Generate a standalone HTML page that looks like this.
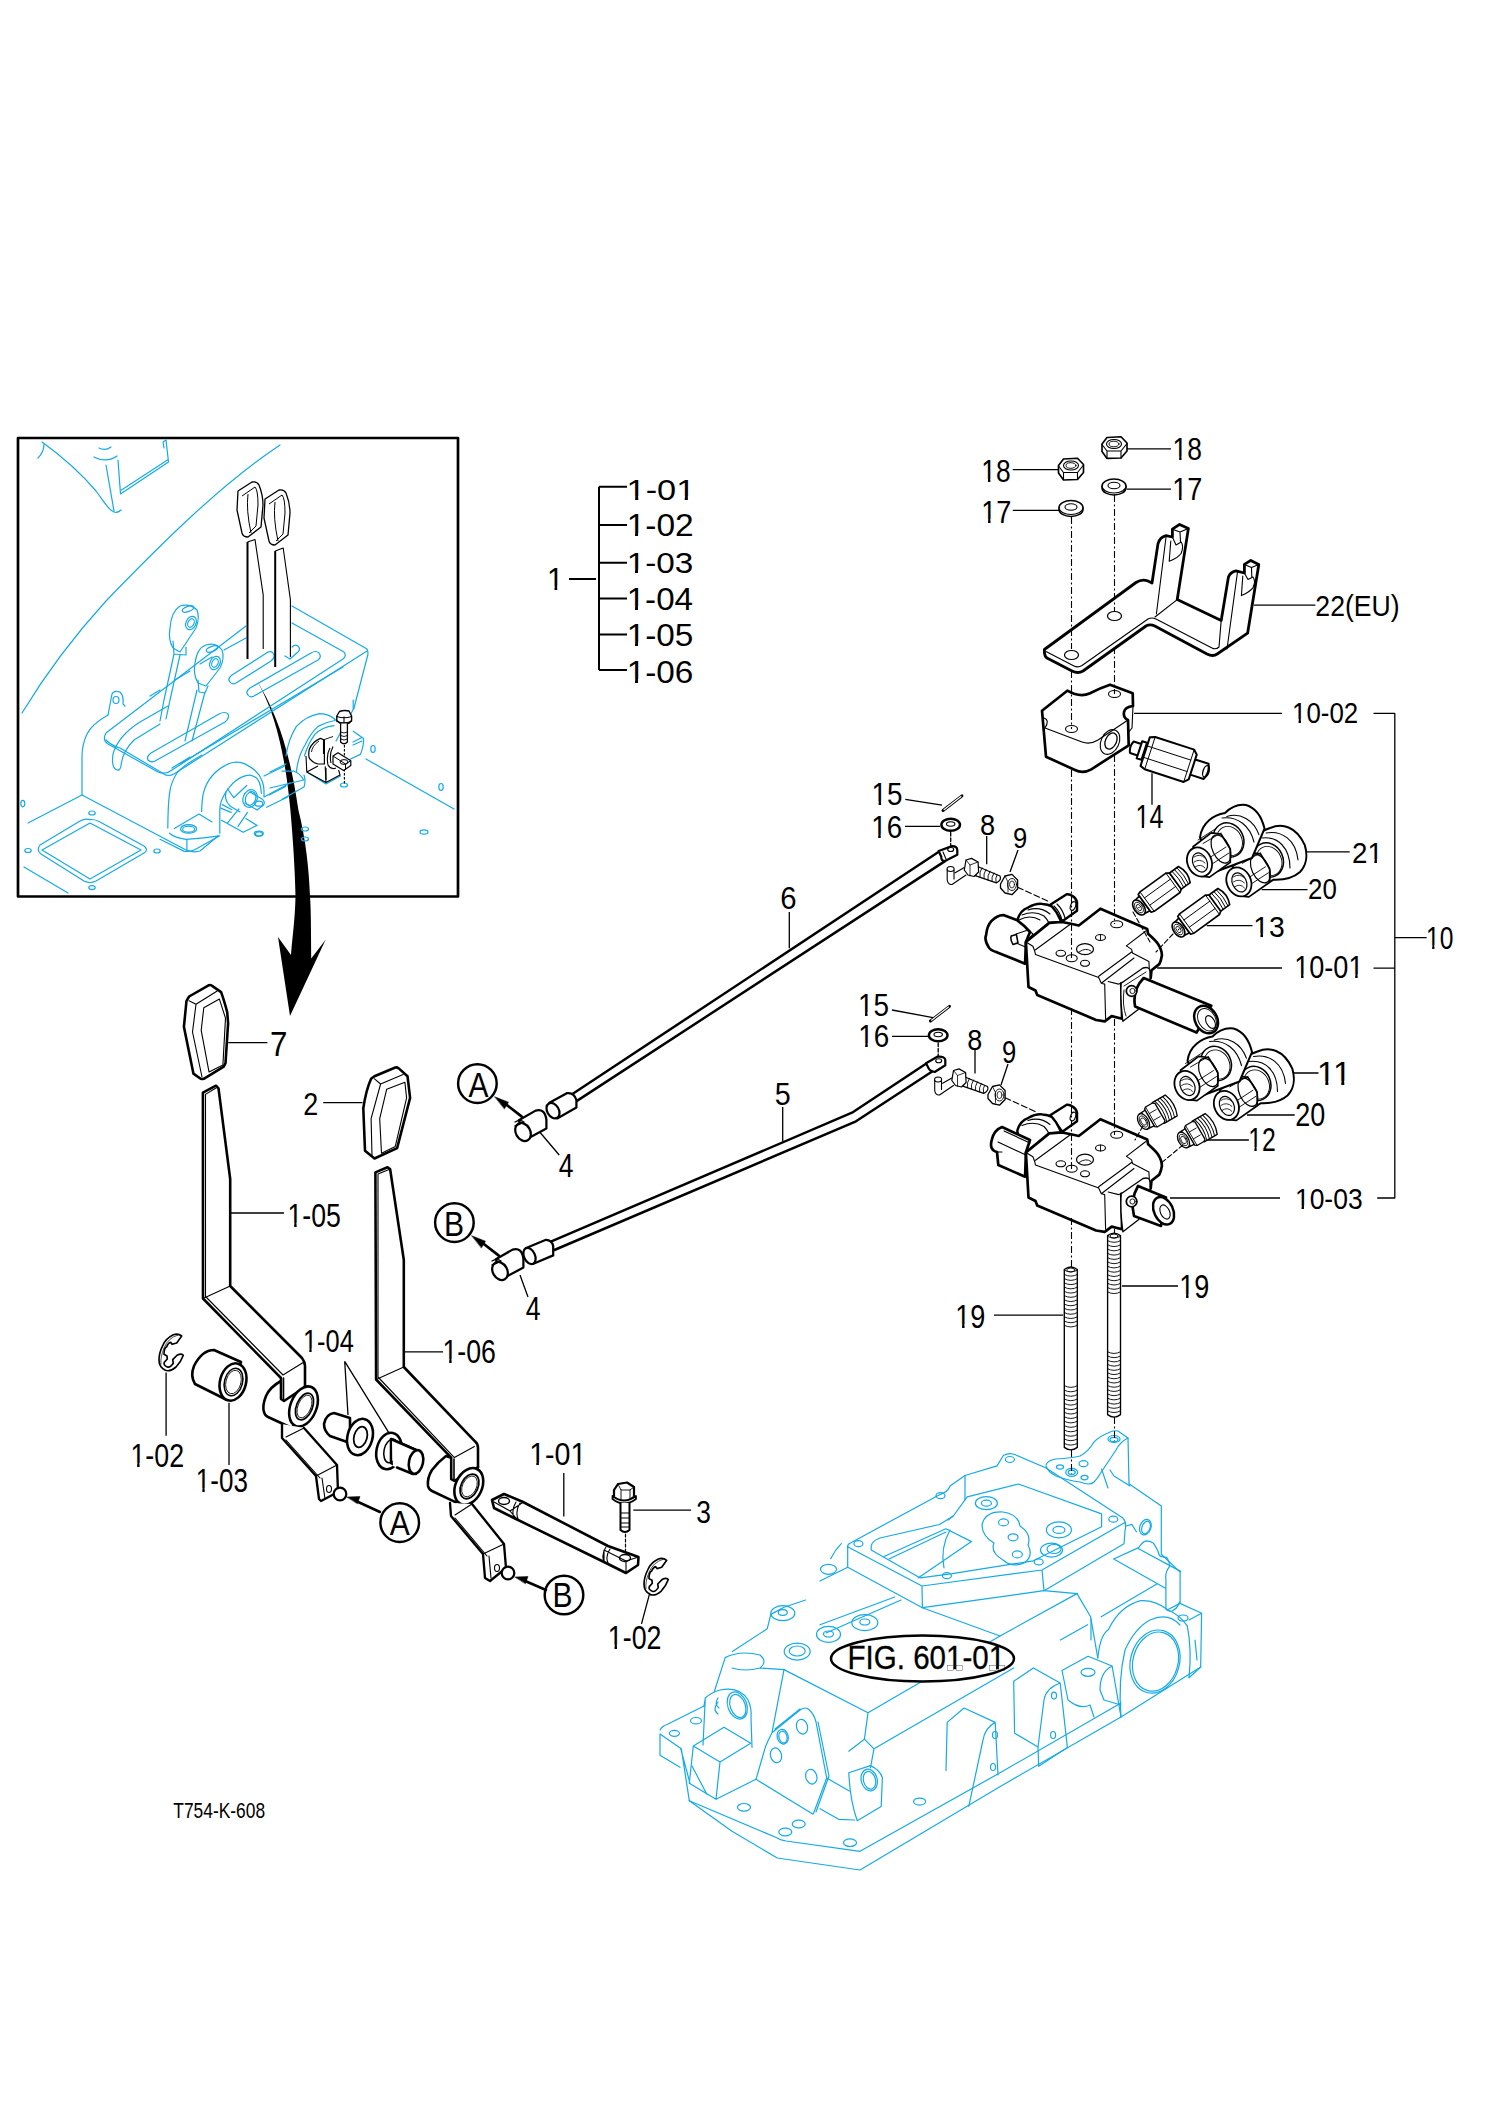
<!DOCTYPE html>
<html><head><meta charset="utf-8"><style>
html,body{margin:0;padding:0;background:#fff;}
svg{display:block;}
text{font-family:"Liberation Sans",sans-serif;}
</style></head><body>
<svg width="1500" height="2123" viewBox="0 0 1500 2123">
<rect width="1500" height="2123" fill="#fff"/>
<g fill="none" stroke="#000" stroke-linecap="butt" stroke-linejoin="round">
<rect x="18" y="438" width="440" height="458.5" stroke-width="2.7"/>
<!-- tree -->
<g stroke-width="2">
<path d="M599,486.7 V670 M599,486.7 H627 M599,525 H627 M599,562.8 H627 M599,598.5 H627 M599,634.5 H627 M599,670 H627 M569,579 H596"/>
</g>
<!-- leaders -->
<g stroke-width="1.3">
<path d="M1127,448.8 H1171 M1012.8,469.6 H1058.4 M1126.9,489.1 H1171 M1012.8,510.4 H1059"/>
<path d="M1134,713.3 H1282 M1373.5,713.4 H1394.8 V1198 H1377.2 M1373.5,968.1 H1394.8 M1394.8,937.7 H1426.7 M1157.2,968 H1282 M1170,1198 H1280"/>
<path d="M1152,773.3 V804.7"/>
<path d="M905.3,799.3 L942,805.1 M905,826.4 H940.1 M789.3,912 V948.2 M892,1010 L934.3,1017.8 M892,1036.3 H928.5 M782.7,1107 V1141.6"/>
<path d="M986.7,836 V864.3 M1018,850 L1010,872 M975,1050 V1073.4 M1008,1064 L1001,1085"/>
<path d="M1305.7,851.9 H1349.7 M1261.7,889.7 H1307.5 M1206.7,925.6 H1252.5 M1292.9,1073 H1318.5 M1247,1115 H1294.7 M1203,1140 H1248.9"/>
<path d="M994,1315.2 H1063.2 M1122,1286 H1178"/>
<path d="M228.2,1042.6 H267.4 M323.2,1102.6 H362.5 M230.2,1213 H284 M403.8,1351.8 H443.1"/>
<path d="M166.1,1372.5 V1435.7 M229,1402.7 V1465 M344.7,1361.3 L348,1415 M344.7,1361.3 L389.4,1433.7 M563.8,1473 V1516.4 M633.3,1510.2 H691.1 M649.8,1592.8 L641.5,1623.8"/>
<path d="M538,1130 L559.2,1155 M520,1275 L528,1297"/>
</g>
</g>
<!-- big arrow -->
<path fill="#000" d="M252,673 C270,700 284,740 290.4,810 C293,840 295,870 295.5,896.5 C295,920 292,940 291,955 L278,937 L290,1016 L325.6,939.7 L311.2,958.4 C311,930 311,910 310,896.5 C309,870 306,840 298.4,810 C291,760 280,715 252,673 Z"/>

<g fill="none" stroke="#14AAE6" stroke-width="1.2" stroke-linejoin="round" stroke-linecap="round">
<!-- big arc -->
<path d="M280,445 C220,485 160,545 106,601 C75,635 45,675 22,713"/>
<!-- top-left fender curve -->
<path d="M42,442 C60,455 80,472 96,491 C103,500 108,510 114,512 C117,513 119,512 121,510"/>
<path d="M44,444 C44,450 41,455 38,458"/>
<path d="M99,448 C103,450 107,450 111,447 M94,457 C101,461 110,461 117,456"/>
<path d="M106,465 L114,511"/>
<path d="M118,460 L120.5,494 L168.5,462 L166,440 M121.5,490 L167.5,460 M166,440 L163,442 L164,448"/>
<!-- console back top edge + right face -->
<path d="M292,606 L367,649 Q369,653 367,658 L354,708"/>
<!-- inner plate outline -->
<path d="M292,623 L344,652 Q347,656 343,659 L172,770 Q166,775 158,772 L108,744 Q102,740 106,733 L246,626"/>
<!-- front top edges -->
<path d="M106,740 Q112,746 120,748 L164,774 Q168,777 174,774 L367,651"/>
<path d="M180,764 L343,667 M172,768 L190,757"/>
<path d="M224,650 L246,638 M200,664 L212,657 M175,680 L190,671 M150,696 L160,690"/>
<!-- slots -->
<path d="M236,683 L271,661 Q276,657 273,653 Q270,650 265,654 L232,675 Q227,679 230,682 Q232,685 236,683 Z"/>
<path d="M254,696 L318,660 Q322,657 319,653 Q316,650 311,653 L250,688 Q245,692 248,695 Q250,698 254,696 Z"/>
<path d="M290,659 L298,652 Q301,649 298,646 Q295,644 292,647 M290,659 L285,656"/>
<path d="M155,761 L225,722 Q230,718 228,714 Q225,711 219,714 L151,753 Q146,757 148,760 Q151,763 155,761 Z"/>
<path d="M140,722 Q118,736 113,754 Q111,768 117,770 Q120,771 121,766 Q122,752 134,740 L160,724 M140,722 L168,706"/>
<!-- lug -->
<path d="M108,715 L112,694 Q114,690 120,692 Q124,696 123,704 L125,706"/>
<ellipse cx="116" cy="700" rx="3" ry="3.5"/>
<!-- console body -->
<path d="M108,715 Q92,724 87,734 Q82,745 82,756 L82,795 L186,850 Q194,853 200,851 L218,836"/>
<path d="M82,795 L28,823 M354,708 L336,741"/>
<!-- left pedestal -->
<path d="M167.8,828 Q168,805 169.5,793.3 Q171,782 177.3,772.5 Q184,765 201.6,755.2"/>
<path d="M201.6,811.5 Q202,800 203.3,793.3 Q206,783 212,776 Q218,769 225,765.6 Q231,762 236.3,762.1 Q241,762 244.9,763.9 Q251,767 255.3,770.8 Q260,775 262.3,781.2 Q264,786 264,790.7 L264,797 L290,783"/>
<path d="M219.8,833.2 L219.8,810.7 Q220,803 222.4,798.5 Q225,792 229.3,787.3 Q235,780 242.3,776.9 Q246,775 250.1,775.1 Q254,776 257.1,778.6 Q260,782 260.5,786.4 Q261,790 261.4,793.3"/>
<path d="M174.3,828.4 L199,814.1 L212,821.9 M169.5,833.2 Q175,838 186,839.3 Q205,838 218.9,835.8 M160,839.3 L184.3,851.4 Q190,852 194.7,849.7 L219.8,835.8 M186.9,840.1 V851.4"/>
<ellipse cx="188.6" cy="828.9" rx="8" ry="4.3"/><ellipse cx="188.6" cy="829.2" rx="6" ry="3"/>
<path d="M264,776 L283.9,766.5 M269.2,795 L285.6,786.4 M266.6,807.2 L288.2,796.8"/>
<ellipse cx="250.1" cy="798.5" rx="7" ry="9" transform="rotate(20 250.1 798.5)"/>
<ellipse cx="250.6" cy="798.5" rx="5" ry="7" transform="rotate(20 250.6 798.5)"/>
<path d="M250,792 L262,799 Q266,802 263.1,805.5 L257,810 L245,803"/>
<ellipse cx="258.8" cy="803.7" rx="4" ry="2.5"/>
<path d="M227.6,789 L233.7,797.7 L246.7,785.5 M226,792 Q224,800 230,806 L240,812"/>
<path d="M222.4,804.6 L231.9,809.8 M220.7,808.1 L231.1,812.4 M227.6,822.8 L238.9,808.9 M238,826.3 L247.5,812.4 M221.5,820.2 L243.2,832.3 L257.1,825.4 L245.8,818.5"/>
<ellipse cx="258.8" cy="833.6" rx="4.5" ry="2.5"/>
<!-- right pedestal -->
<path d="M286,756 Q288,740 296.4,726.4 Q306,716 319.6,713.6 Q330,714 335.6,720"/>
<path d="M296.4,772 Q298,756 305.2,744.8 Q310,734 318,726.4 Q326,722 335,720.5"/>
<path d="M304.4,756 Q308,744 314.8,734.4 Q322,727 334,725.6"/>
<path d="M353.2,731.2 L363.6,738.4 Q364,746 360.4,754.4 L348.4,760 M353,742 L362,737.5 M353,745 L362,741"/>
<path d="M306.8,772 L326,784 L340.4,776 M282,771.2 L294,771.2 Q300,773 303.6,780 M270,772 L286,764 M270,788 L303.6,780 M282,799.2 L304,787 Q306,781 304,775"/>
<path d="M353.2,700 L353.2,708.8"/>
<!-- floor -->
<path d="M366,759 L454,809 M24,867 L68,893"/>
<path d="M90,819.6 Q85,818 80,821 L40,845 Q36,850 41,854 L84,881 Q90,884 96,881 L144,853 Q149,850 144,846 L100,822 Q95,819 90,819.6 Z"/>
<path d="M90,823 L42,850 L90,879 L141,850 Z"/>
<ellipse cx="92" cy="813" rx="3.2" ry="2"/>
<ellipse cx="28" cy="850.5" rx="3.2" ry="2"/>
<ellipse cx="157" cy="851" rx="3.2" ry="2"/>
<ellipse cx="92" cy="887.6" rx="3.2" ry="2"/>
<ellipse cx="22.8" cy="803.6" rx="2" ry="3.2"/>
<ellipse cx="259" cy="834" rx="3.5" ry="2"/>
<ellipse cx="305" cy="829" rx="3.5" ry="2"/>
<ellipse cx="305" cy="839" rx="3.5" ry="2"/>
<ellipse cx="344" cy="785" rx="3.5" ry="2"/>
<ellipse cx="424" cy="832" rx="4" ry="2.2"/>
<ellipse cx="373" cy="749" rx="2.2" ry="3.5"/>
<ellipse cx="441" cy="787" rx="2.2" ry="3.5"/>
<!-- cyan lever knobs -->
<path d="M173,648 Q168,640 170,628 Q171,612 180,606 Q190,603 197,610 Q200,618 196,628 L180,652 Z"/>
<ellipse cx="191" cy="623" rx="5" ry="7" transform="rotate(25 191 623)"/>
<ellipse cx="191" cy="623" rx="3" ry="4.5" transform="rotate(25 191 623)"/>
<ellipse cx="188" cy="609" rx="6" ry="2.5" transform="rotate(-20 188 609)"/>
<path d="M173,641 L174,654 L186,655 L186,647 M174,654 L164,700 M180,655 L170,700 M164,700 L160,721 M170,700 L166,719"/>
<path d="M198,683 Q193,675 195,663 Q197,648 206,645 Q216,642 222,650 Q225,658 220,668 L206,686 Z"/>
<ellipse cx="215" cy="663" rx="5" ry="7" transform="rotate(25 215 663)"/>
<ellipse cx="215" cy="663" rx="3" ry="4.5" transform="rotate(25 215 663)"/>
<ellipse cx="212" cy="649" rx="6" ry="2.5" transform="rotate(-20 212 649)"/>
<path d="M198,680 L199,692 L205,693 L208,686 M197,690 L185,741 M205,692 L192,741"/>
</g>
<g fill="none" stroke="#000" stroke-linejoin="round">
<!-- black levers in inset -->
<path stroke-width="1.3" d="M238,491 L252,482 Q257,481 259,485 Q263,495 263,505 L261,527 L248,537 Q243,537 242,533 L237,510 Z"/>
<path stroke-width="1" d="M242,496 L255,487 Q258,490 258,505 L256,526 L249,533 M248,494 Q246,510 251,533"/>
<path stroke-width="1.3" d="M265,499 L279,490 Q284,489 286,493 Q290,503 290,513 L288,535 L275,545 Q270,545 269,541 L264,518 Z"/>
<path stroke-width="1" d="M269,504 L282,495 Q285,498 285,513 L283,534 L276,541 M275,502 Q273,518 278,541"/>
<path stroke-width="2" d="M247.5,542 V659 M275.2,551 V667"/>
<path stroke-width="1.1" d="M247.5,542 L255,539.6 L263.2,594.8 V649 M275.2,551 L283.2,548 L290.4,599.6 V657"/>
<!-- small bolt -->
<path stroke-width="1.4" fill="#fff" d="M336.8,716 L339.5,711.5 Q344,709.8 349,711 L351.6,716 L351.6,720.5 L349,723.2 L340,723.2 L336.8,720.5 Z"/>
<path stroke-width="1.1" d="M336.8,716.5 Q344,719 351.6,716.5 M336.2,721 Q344,725 352,721 M344,716.5 V723"/>
<path stroke-width="1.3" fill="#fff" d="M340.6,723.5 L340.6,742 Q344,745.5 347.4,742 L347.4,723.5"/>
<path stroke-width="0.9" d="M340.6,732 Q344,734 347.4,732 M340.6,735.5 Q344,737.5 347.4,735.5 M340.6,739 Q344,741 347.4,739"/>
<path stroke-width="1.1" stroke-dasharray="2.5 1.5" d="M344.4,745 V785"/>
<path stroke-width="1.2" fill="#fff" d="M320.4,738.4 Q312,742 309.2,749.6 Q308,757 310,759.2 Q313,763 318,764 L324.4,764 L324.4,740 Z"/>
<path stroke-width="0.9" d="M319,741 Q312,746 311.5,752 M323,740 L333,736.5"/>
<path stroke-width="1.1" d="M306,756 L306.8,772 L326,782.4 L325.2,766.4 M306.8,772 L318,766 M326,782.4 L340,775 L338.6,770"/>
<path stroke-width="1.1" d="M323.5,740 L323.5,754 M326,768 L326,780"/>
<path stroke-width="1.2" fill="#fff" d="M333,756 L338,752.8 L350.8,760.8 L350.8,765.6 L343.6,770.4 L333,764 Z"/>
<ellipse cx="344" cy="762" rx="4" ry="2.4" stroke-width="1"/>
<path stroke-width="1" d="M333,756 L345.5,764 L350.8,760.8 M345.5,764 L345.5,770"/>
<path stroke-width="1.1" d="M330,748 Q326,755 328,765 Q331,770 336,768 M333,746.4 Q329,754 331,763"/>
</g>

<g fill="none" stroke="#000" stroke-linejoin="round" stroke-linecap="round">
<!-- nut 18 upper -->
<g stroke-width="1.65" fill="#fff">
<path d="M1102,444 L1107,437.5 L1121,436.8 L1127,443 L1127,451 L1121,458 L1107,458.4 L1102,451.5 Z"/>
</g>
<path stroke-width="1.10" d="M1102,444.5 L1107,451 L1121,451 L1127,443.5 M1107,451 V458 M1121,451 V458"/>
<ellipse cx="1114" cy="444" rx="7.5" ry="4.5" stroke-width="1.10"/>
<ellipse cx="1114" cy="444" rx="5" ry="2.8" stroke-width="0.90"/>
<!-- nut 18 left -->
<g stroke-width="1.65" fill="#fff">
<path d="M1058.5,465.5 L1063.5,459 L1077.5,458.3 L1083.5,464.5 L1083.5,472.5 L1077.5,479.5 L1063.5,480 L1058.5,473 Z"/>
</g>
<path stroke-width="1.10" d="M1058.5,466 L1063.5,472.5 L1077.5,472.5 L1083.5,465 M1063.5,472.5 V479.5 M1077.5,472.5 V479.5"/>
<ellipse cx="1071" cy="465.5" rx="7.5" ry="4.5" stroke-width="1.10"/>
<ellipse cx="1071" cy="465.5" rx="5" ry="2.8" stroke-width="0.90"/>
<!-- washers 17 -->
<g stroke-width="1.54" fill="#fff">
<path d="M1102,486 A12,7 0 0 1 1126,486 V488 A12,7 0 0 1 1102,488 Z"/>
<path d="M1059,507.5 A12,7 0 0 1 1083,507.5 V509.5 A12,7 0 0 1 1059,509.5 Z"/>
</g>
<path stroke-width="1.10" d="M1102,486 A12,7 0 0 0 1126,486 M1059,507.5 A12,7 0 0 0 1083,507.5"/>
<ellipse cx="1114" cy="485.5" rx="6" ry="3.2" stroke-width="1.10"/>
<ellipse cx="1071" cy="507" rx="6" ry="3.2" stroke-width="1.10"/>
<!-- bracket 22 -->
<path stroke-width="2.80" fill="#fff" d="M1044.4,649.5 L1136,582.5 Q1142,578.5 1148,581 L1152,583 L1158,543.6 Q1160,537 1166,535.6 L1172.4,537 L1172.4,529.2 L1179.6,524.4 L1188.4,528.4 L1177.2,599.6 L1221.2,620.4 L1228.4,577.2 Q1230,572 1236,570.8 L1244.4,573 L1244.4,564.4 L1250.8,560.4 L1258.8,564.4 L1247.6,633.2 L1217.2,654 Q1213,657 1207,654 L1154.8,626 Q1150,623.6 1146,626 L1083,671 Q1078,674 1072,671 L1047,658 Q1044,656 1044.4,649.5 Z"/>
<path stroke-width="1.10" d="M1046,651.5 L1074,666 Q1078,668 1082,665.5 L1148,619 Q1152,617 1156,619 L1212,648 Q1216,650 1219,647 M1177.2,599.6 L1155,617 M1221.2,620.4 L1219,647 M1156.4,614 L1166,537.2 M1227,649 L1237.5,572"/>
<path stroke-width="1.10" d="M1172.4,529.2 L1180,532 L1188.4,528.4 M1180,532 L1180.5,542 M1170.8,541 L1169.2,561.2 Q1178,558 1181.2,553.2 Q1184,546 1181.2,542 L1176,545 L1172.4,537 M1244.4,564.4 L1251.5,567.5 L1258.8,564.4 M1251.5,567.5 L1251.8,577 M1242.8,576 L1241.4,595.6 Q1250,592 1253,587.6 Q1256,581 1253,577 L1248,579.5 L1244.4,573"/>
<ellipse cx="1071.5" cy="655" rx="7" ry="4.5" stroke-width="1.21" fill="#fff"/>
<ellipse cx="1114.5" cy="616" rx="7" ry="4.5" stroke-width="1.21" fill="#fff"/>
<path stroke-width="1.32" d="M1254.4,605.2 H1314.9"/>
<!-- block 10-02 -->
<path stroke-width="2.69" fill="#fff" d="M1042,710.7 L1067.3,690.7 Q1080,698 1090,693.3 Q1100,688 1110,684.7 L1132.7,693.3 L1133,706 Q1125,707 1124,712 Q1123,718 1128,720 L1128.7,745.3 L1091.3,769.3 Q1083,774 1075,770 L1046,756.7 Z"/>
<path stroke-width="1.10" d="M1044,718 Q1050,720 1045,728 M1045,728 L1082,742 Q1090,745 1098,740 L1128,720 M1133,706 L1132,728 L1128,733"/>
<ellipse cx="1071.5" cy="729" rx="6" ry="3.5" stroke-width="1.10"/>
<ellipse cx="1114.5" cy="694" rx="6" ry="3.5" stroke-width="1.10"/>
<ellipse cx="1110" cy="742" rx="9" ry="13" transform="rotate(25 1110 742)" stroke-width="1.10"/>
<ellipse cx="1111" cy="741" rx="5.5" ry="8.5" transform="rotate(25 1111 741)" stroke-width="1.32"/>
<!-- fitting 14 -->
<g transform="translate(1168,759) rotate(18)">
<path stroke-width="2.02" fill="#fff" d="M-38,-6 Q-41,0 -38,6 L-30,6 L-30,-6 Z M-30,-9 L-25,-9 L-25,9 L-30,9 Z M-24,-15 L-19,-17 L22,-17 L26,-13 L26,13 L22,17 L-19,17 L-24,15 Z M26,-8 L40,-8 Q44,0 40,8 L26,8 Z"/>
<path stroke-width="0.90" d="M-24,-6 L22,-6 M-24,6 L22,6 M-19,-17 V17 M22,-17 V17"/>
<ellipse cx="40" cy="0" rx="3" ry="6" stroke-width="1.32"/>
</g>
</g>

<defs>
<g id="vblock">
<!-- main block -->
<path stroke-width="2.69" fill="#fff" d="M1025.9,942 L1049.3,922.9 L1062,922 L1071,923.8 L1078.8,925.5 L1100.4,908.7 L1147.2,929 L1148.1,933.8 Q1155,940 1157.6,943.3 Q1162,950 1161.9,955.5 Q1161,961 1159.3,964.1 L1151.5,970.2 L1150.7,978 L1121.2,983.2 L1122.1,1018.7 L1111.7,1016.1 L1104.7,1021.3 L1096.1,1020 L1037.2,994.9 L1035.5,990.5 L1028.5,987 Z"/>
<path stroke-width="1.10" d="M1025.9,942 L1032.9,946.3 L1034.6,950.7 L1035.5,954.6 L1098.7,977.5 L1101.3,983.2 L1104.7,984.1 L1105.6,1018.7 M1035.5,949.8 L1071,923.8 M1126.4,945.9 L1145.5,931.2 M1126.4,945.9 L1131.6,949.4 L1132.5,952.9 L1148.9,961.5 L1149.8,978 M1098.7,976.3 L1131.6,952 M1101.3,983.2 L1134,958 M1108.2,981.5 L1118.6,984.1 L1121.2,983.2"/>
<ellipse cx="1060.8" cy="953.3" rx="4.8" ry="3" stroke-width="1.10"/>
<ellipse cx="1071.7" cy="958.3" rx="5.5" ry="3.5" stroke-width="1.10"/>
<ellipse cx="1085" cy="963.3" rx="4.5" ry="3" stroke-width="1.10"/>
<ellipse cx="1085" cy="949.2" rx="8.5" ry="5.5" stroke-width="1.21"/>
<path stroke-width="0.90" d="M1079,952 Q1086,947 1091,951"/>
<ellipse cx="1100.5" cy="937.5" rx="5" ry="3" stroke-width="1.10"/>
<path stroke-width="0.90" d="M1100.5,934.5 V940.5"/>
<ellipse cx="1116.7" cy="924.2" rx="6" ry="3.5" stroke-width="1.10"/>
</g>
<g id="fit21">
<path stroke-width="2" fill="#fff" d="M1200,837.3 C1202,822 1214,815 1225,813 C1232,806 1239,804 1246,805 C1256,808 1262,818 1264.5,828.6 L1252,858 L1215,872 Z"/>
<path stroke-width="1.1" d="M1226.8,816.5 C1240,812 1254,820 1258.9,834.7 M1222,818 C1238,816 1250,826 1254,842"/>
<ellipse cx="1228.5" cy="840" rx="15" ry="17.5" transform="rotate(-25 1228.5 840)" stroke-width="1.5" fill="#fff"/>
<ellipse cx="1229.5" cy="841" rx="12.5" ry="15" transform="rotate(-25 1229.5 841)" stroke-width="0.9"/>
<path stroke-width="1.7" fill="#fff" d="M1193,846.8 L1211.2,832.9 L1221,834 L1230.3,849 L1230.3,862.4 L1209.5,877.1 L1199.5,876 Z"/>
<path stroke-width="0.9" d="M1198,840 L1216,828.5 M1203,843.5 L1221,833 M1206,860 L1226,847 M1209,866 L1229,853"/>
<ellipse cx="1221" cy="849" rx="8.5" ry="15" transform="rotate(-25 1221 849)" stroke-width="1.2"/>
<ellipse cx="1199.5" cy="862" rx="12" ry="15" transform="rotate(-25 1199.5 862)" stroke-width="1.8" fill="#fff"/>
<ellipse cx="1200" cy="862.5" rx="7" ry="10" transform="rotate(-25 1200 862.5)" stroke-width="1.2"/>
<path stroke-width="0.8" d="M1194,857 Q1200,853 1205,858 M1194,862 Q1200,858 1205,863 M1195,867 Q1201,863 1205,868"/>
</g>
<g id="fit21b">
<path stroke-width="2" fill="#fff" d="M1240,855 C1246,842 1258,832 1270,828 C1282,823 1296,826 1304.8,845.1 C1308,856 1306,866 1300,872 C1292,879 1282,880 1273.6,879.7 L1250,893 Z"/>
<path stroke-width="1.1" d="M1266,833 C1282,830 1296,840 1298,860 M1262,838 C1278,836 1290,848 1290,868"/>
<ellipse cx="1268" cy="860" rx="15" ry="17.5" transform="rotate(-25 1268 860)" stroke-width="1.5" fill="#fff"/>
<ellipse cx="1269" cy="861" rx="12.5" ry="15" transform="rotate(-25 1269 861)" stroke-width="0.9"/>
<path stroke-width="1.7" fill="#fff" d="M1232.4,866.6 L1250.6,852.7 L1260.4,853.8 L1269.7,868.8 L1269.7,882.2 L1248.9,896.9 L1238.9,895.8 Z"/>
<path stroke-width="0.9" d="M1237.4,859.8 L1255.4,848.3 M1242.4,863.3 L1260.4,852.8 M1245.4,879.8 L1265.4,866.8 M1248.4,885.8 L1268.4,872.8"/>
<ellipse cx="1260.4" cy="868.8" rx="8.5" ry="15" transform="rotate(-25 1260.4 868.8)" stroke-width="1.2"/>
<ellipse cx="1238.9" cy="881.9" rx="12" ry="15" transform="rotate(-25 1238.9 881.9)" stroke-width="1.8" fill="#fff"/>
<ellipse cx="1239.4" cy="882.4" rx="7" ry="10" transform="rotate(-25 1239.4 882.4)" stroke-width="1.2"/>
<path stroke-width="0.8" d="M1233.4,876.9 Q1239.4,872.9 1244.4,877.9 M1233.4,881.9 Q1239.4,877.9 1244.4,882.9 M1234.4,886.9 Q1240.4,882.9 1244.4,887.9"/>
</g>
<g id="nip13">
<path stroke-width="1.65" fill="#fff" d="M0,-8 L7,-9 L7,9 L0,8 Z"/>
<path stroke-width="1.65" fill="#fff" d="M7,-11 L10,-12 L42,-12 L45,-10 L45,10 L42,12 L10,12 L7,11 Z"/>
<path stroke-width="0.90" d="M10,-12 V12 M10,-4.5 H42 M10,4.5 H42 M42,-12 V12"/>
<path stroke-width="1.65" fill="#fff" d="M45,-10 L56,-10 Q61,0 56,10 L45,10 Z"/>
<path stroke-width="0.90" d="M48,-10 Q50,0 48,10 M51,-10 Q53,0 51,10 M54,-10 Q56,0 54,10"/>
<ellipse cx="0" cy="0" rx="5" ry="8.5" stroke-width="1.65" fill="#fff"/>
<ellipse cx="0" cy="0" rx="3.5" ry="6" stroke-width="0.80"/>
<ellipse cx="0" cy="0" rx="2" ry="3.5" stroke-width="0.80"/>
<circle cx="0" cy="0" r="0.7" fill="#000" stroke="none"/>
</g>
<g id="nip12">
<path stroke-width="1.3" fill="#fff" d="M17,-12 L32,-12 Q37,0 32,12 L17,12 Z"/>
<path stroke-width="0.9" d="M20,-12 Q24,0 20,12 M23,-12 Q27,0 23,12 M26,-12 Q30,0 26,12 M29,-12 Q33,0 29,12"/>
<path stroke-width="1.3" fill="#fff" d="M7,-10 L9,-11.5 L17,-11.5 L19,-10 L19,10 L17,11.5 L9,11.5 L7,10 Z"/>
<path stroke-width="0.8" d="M9,-11.5 V11.5 M9,-4 H17 M9,4 H17"/>
<path stroke-width="1.3" fill="#fff" d="M0,-8.5 L7,-9 L7,9 L0,8.5 Z"/>
<path stroke-width="0.8" d="M3,-8.7 Q5,0 3,8.7"/>
<ellipse cx="0" cy="0" rx="5" ry="8.5" stroke-width="1.3" fill="#fff"/>
<ellipse cx="0" cy="0" rx="3.5" ry="6.2" stroke-width="0.8"/>
<ellipse cx="0" cy="0" rx="2.3" ry="4" stroke-width="0.8"/>
</g>
</defs>
<g fill="none" stroke="#000" stroke-linejoin="round" stroke-linecap="round">
<!-- valve 10-01 -->
<!-- pin top -->
<path stroke-width="2.46" fill="#fff" d="M1050.2,904.7 L1066.7,894.3 Q1070,894 1072.7,896.1 Q1076,898 1077,902.1 L1077,910.8 L1062.3,921.2 Z"/>
<ellipse cx="1073" cy="906" rx="2.5" ry="4.5" stroke-width="1.10" transform="rotate(20 1073 906)"/>
<path stroke-width="1.10" d="M1054,906 Q1060,912 1062,920 M1057,904 Q1063,910 1065,918"/>
<!-- coil ring -->
<path stroke-width="2.46" fill="#fff" d="M1017.3,920.3 Q1020,910 1028.5,907.3 Q1036,903 1042.4,903.9 Q1048,904 1051.9,906.5 Q1057,912 1059.7,918.6 L1061.5,922.1 L1049.3,922.9 L1025.9,942 L1025.1,963.7 Z"/>
<path stroke-width="1.10" d="M1022,915 Q1034,910 1044,916 Q1050,922 1052,932 M1028,910 Q1040,906 1050,914 M1019,920 Q1030,914 1040,920"/>
<!-- left solenoid cylinder -->
<path stroke-width="2.69" fill="#fff" d="M1003.4,915.1 L1017.3,920.3 Q1024,925 1030,932 L1025.9,942 L1025.1,963.7 L997.3,952.4 Q990,950 988.7,947.2 Q984,940 986.1,935.1 Q987,926 991.3,921.2 Q997,915 1003.4,915.1 Z"/>
<path stroke-width="1.54" fill="#fff" d="M1011.2,936 L1016.4,934.5 L1018,943 L1013,944.5 Q1010,940 1011.2,936 Z"/>
<path stroke-width="1.10" d="M1016,934 L1028,930 L1033,934 L1025.9,942 M1016,943 L1025.5,947"/>
<use href="#vblock"/>
<!-- spool flange + cylinder -->
<path stroke-width="1.32" fill="#fff" d="M1121.2,983.2 L1143,968 Q1150,966 1150,972 L1150,990 L1138.5,1009.2 L1122.9,1021.3 Q1120,1000 1121.2,983.2 Z"/>
<path stroke-width="0.90" d="M1124,986 L1146,972 M1124,990 Q1122,1005 1126,1016"/>
<path stroke-width="2.69" fill="#fff" d="M1143.7,978 L1211.3,1005.7 L1196.6,1032.6 L1135.1,1006.6 Q1132,990 1143.7,978 Z"/>
<ellipse cx="1206.1" cy="1019.6" rx="11" ry="14.5" transform="rotate(-30 1206.1 1019.6)" stroke-width="2.46" fill="#fff"/>
<ellipse cx="1207" cy="1019.8" rx="8.5" ry="12" transform="rotate(-30 1207 1019.8)" stroke-width="0.90"/>
<ellipse cx="1210.5" cy="1022" rx="4" ry="7" transform="rotate(-30 1210.5 1022)" stroke-width="1.10"/>
<circle cx="1131.6" cy="991" r="5.3" stroke-width="1.76" fill="#fff"/>
<circle cx="1132.5" cy="991" r="2.6" stroke-width="0.90"/>

<!-- valve 10-03 -->
<path stroke-width="2.46" fill="#fff" d="M1050.2,1115.2 L1066.7,1104.8 Q1070,1104.5 1072.7,1106.6 Q1076,1108.5 1077,1112.6 L1077,1121.3 L1062.3,1131.7 Z"/>
<ellipse cx="1073" cy="1116.5" rx="2.5" ry="4.5" stroke-width="1.10" transform="rotate(20 1073 1116.5)"/>
<path stroke-width="2.46" fill="#fff" d="M1017.3,1130.8 Q1020,1120.5 1028.5,1117.8 Q1036,1113.5 1042.4,1114.4 Q1048,1114.5 1051.9,1117 Q1057,1122.5 1059.7,1129.1 L1061.5,1132.6 L1049.3,1133.4 L1025.9,1152.5 L1025.1,1174.2 Z"/>
<path stroke-width="1.10" d="M1022,1125.5 Q1034,1120.5 1044,1126.5 Q1050,1132.5 1052,1142.5 M1028,1120.5 Q1040,1116.5 1050,1124.5"/>
<path stroke-width="2.69" fill="#fff" d="M1002,1127 L1030,1140 L1025.9,1152.5 L1025.1,1176.7 L998.3,1165 L997,1152 Q989,1150 991.7,1140 Q994,1130 1002,1127 Z"/>
<path stroke-width="1.10" d="M998,1142 L1025.9,1155 M1004,1131 L1030,1143 M997,1152 L1002,1152"/>
<use href="#vblock" transform="translate(0,210.5)"/>
<path stroke-width="1.32" fill="#fff" d="M1121.2,1193.7 L1143,1178.5 Q1150,1176.5 1150,1182.5 L1150,1200.5 L1138.5,1219.7 L1122.9,1231.8 Q1120,1210.5 1121.2,1193.7 Z"/>
<path stroke-width="2.69" fill="#fff" d="M1138,1186 L1166,1197.5 L1161,1226 L1134,1216 Q1130,1200 1138,1186 Z"/>
<ellipse cx="1163.5" cy="1211.5" rx="9.5" ry="14.5" transform="rotate(-25 1162 1211)" stroke-width="2.46" fill="#fff"/>
<ellipse cx="1165" cy="1212" rx="4.5" ry="7.5" transform="rotate(-25 1165 1212)" stroke-width="1.10"/>
<circle cx="1131.6" cy="1201.5" r="5.3" stroke-width="1.76" fill="#fff"/>
<circle cx="1132.5" cy="1201.5" r="2.6" stroke-width="0.90"/>

<!-- fittings upper -->
<use href="#fit21b"/>
<use href="#fit21"/>
<use href="#nip13" transform="translate(1139,907.5) rotate(-36)"/>
<use href="#nip13" transform="translate(1178.5,929.5) rotate(-36)"/>
<!-- dashed to valve -->
<path stroke-width="1.10" stroke-dasharray="5 2.5" d="M1133,912 L1150,942 M1173,934 L1156,952"/>
<!-- fittings lower -->
<use href="#fit21b" transform="translate(-12.5,223.5)"/>
<use href="#fit21" transform="translate(-12.5,223.5)"/>
<use href="#nip12" transform="translate(1143.5,1121.5) rotate(-30)"/>
<use href="#nip12" transform="translate(1183.5,1140) rotate(-30)"/>
<path stroke-width="1.10" stroke-dasharray="5 2.5" d="M1143,1126 L1135,1140 M1183,1145 L1160,1164"/>
</g>

<defs>
<g id="hw">
<!-- pin 15 -->
<path stroke-width="2.91" d="M943,810.5 L962,795.8"/>
<path stroke-width="1.10" stroke="#fff" d="M944,809.7 L961,796.5"/>
<!-- washer 16 -->
<ellipse cx="950.7" cy="824.8" rx="9.3" ry="6" stroke-width="2.46"/>
<ellipse cx="950.7" cy="824" rx="4.2" ry="2.2" stroke-width="1.10"/>
<path stroke-width="1.32" stroke-dasharray="3.5 2" d="M950.7,832.5 V849"/>
<!-- clevis pin -->
<path stroke-width="1.10" d="M947.2,869.6 V880 Q948,885 952,884.5 L966,875 M955.2,872.8 L964.3,867.5 M954,870 V879"/>
<ellipse cx="950.6" cy="869" rx="3.5" ry="2.5" stroke-width="1.10"/>
<!-- bolt 8 -->
<path stroke-width="1.21" fill="#fff" d="M972.3,864.3 L1000,876 Q1002,880 996.3,882.9 L970.1,873.9 Z"/>
<path stroke-width="0.90" d="M978,866 Q975,871 976,875.5 M982,867.8 Q979,872 980,877 M986,869.5 Q983,874 984,878.5 M990,871.2 Q987,876 988,880 M994,873 Q991,877 992,881.5 M997,875 Q995,878 996,882"/>
<path stroke-width="1.21" fill="#fff" d="M966,860 L971.5,858.4 L978.1,862 L978.6,872 L974,876.5 L968,875 L964.3,870 Z"/>
<path stroke-width="0.80" d="M966,860 L970,865 L970,876 M970,865 L978,862"/>
<!-- nut 9 -->
<path stroke-width="1.32" fill="#fff" d="M1000.5,884 L1005,876 L1012,874.4 L1017.6,880 L1017.6,889 L1012,894.7 L1005,893 L1000.5,888 Z"/>
<ellipse cx="1012" cy="884.5" rx="4.5" ry="6" stroke-width="0.90"/>
<ellipse cx="1012" cy="884.5" rx="2.5" ry="3.5" stroke-width="0.80"/>
<path stroke-width="0.80" d="M1005,876 L1008,882 L1008,892"/>
<path stroke-width="1.21" stroke-dasharray="6 3" d="M1017.6,887.2 L1049,901.6"/>
</g>
</defs>
<g fill="none" stroke="#000" stroke-linejoin="round" stroke-linecap="round">
<use href="#hw"/>
<use href="#hw" transform="translate(-12.5,210.5)"/>
<!-- rod 6 -->
<path stroke-width="2.46" d="M572.8,1093.8 L939.2,851.5 M575.8,1101.6 L945,861.1"/>
<path stroke-width="2.24" fill="#fff" d="M938.7,851 L952,846.1 Q957,846 957.3,850 L957.3,854.7 L945,861.1 Q941,861 941.3,856.8 Z"/>
<ellipse cx="950.7" cy="849.5" rx="3" ry="2" stroke-width="1.10"/>
<path stroke-width="1.10" d="M943,852 L946,859"/>
<!-- rod 6 collar -->
<path stroke-width="2.24" fill="#fff" d="M549.4,1102.8 L566.8,1093.2 Q574,1092 576.4,1100 L576.4,1107.6 L557.2,1118.4 Z"/>
<ellipse cx="553" cy="1110.6" rx="5.8" ry="8.3" transform="rotate(-30 553 1110.6)" stroke-width="2.24" fill="#fff"/>
<!-- rod 5 -->
<path stroke-width="2.46" d="M550.8,1241.6 L852,1112.7 L926.7,1063.3 M554.4,1250 L856,1121.3 L933.3,1070.7"/>
<path stroke-width="2.24" fill="#fff" d="M926,1063.3 L937.3,1056.7 Q945,1056 945.3,1060 L945.3,1065.3 L934.7,1072 Q929,1071 928,1067 Z"/>
<ellipse cx="938.7" cy="1060.7" rx="3" ry="2" stroke-width="1.10"/>
<path stroke-width="2.24" fill="#fff" d="M525.6,1248.2 L546,1239.8 Q552,1240 553.2,1246 L553.2,1255.4 L533.4,1263.8 Z"/>
<ellipse cx="529.5" cy="1256" rx="5.5" ry="8.5" transform="rotate(-25 529.5 1256)" stroke-width="2.24" fill="#fff"/>
<!-- A circle + collar -->
<g id="acol">
<circle cx="477.4" cy="1083.6" r="19.3" stroke-width="2.46"/>
<path stroke-width="2.69" d="M521.8,1116.6 L503,1102"/>
<path fill="#000" stroke-width="0.50" d="M494.8,1096.8 L508.5,1102.2 L504.5,1108.8 Z"/>
<path stroke-width="2.24" fill="#fff" d="M518.8,1120.2 L535.6,1110.6 Q545,1108 546.4,1120 L546.4,1128.6 L526,1139.4 Z"/>
<ellipse cx="523" cy="1132" rx="7.2" ry="9.5" transform="rotate(-30 523 1132)" stroke-width="2.24" fill="#fff"/>
<path stroke-width="1.32" d="M515,1122 Q520,1119 524,1122 Q519,1125 515,1126"/>
</g>
<use href="#acol" transform="translate(-23,139)"/>
</g>
<g fill="#000">
<text transform="matrix(0.30 0 0 0.355 468.4 1096.8)" font-size="100">A</text>
<text transform="matrix(0.30 0 0 0.355 444 1236)" font-size="100">B</text>
</g>

<g fill="none" stroke="#000" stroke-linejoin="round" stroke-linecap="round">
<!-- knob 7 -->
<path stroke-width="2.58" fill="#fff" d="M186.5,1000.8 L189.1,996.5 L209,985.2 Q211,984.5 212.5,986.1 L221.1,992.1 Q224,1000 227.2,1012.1 L228.1,1023.3 L225.5,1063.2 L223.7,1066.7 L203.8,1078.8 Q201,1079.5 200.3,1078.5 L193.4,1073.6 L183.9,1026.8 Z"/>
<path stroke-width="1.10" d="M189,1000.8 L196,1004.3 L216.8,991.3 M196,1004.3 L192.5,1032 L202,1077 M203.8,1007.7 L219.4,999.1 L225.5,1018.1 L222.9,1064.9 L209,1071.9 L201.2,1030.3 Z"/>
<!-- knob 2 -->
<path stroke-width="2.58" fill="#fff" d="M374.5,1076.2 L395.3,1067.5 Q397,1067 398.8,1068.4 L407.5,1076.2 L410.1,1097.9 L397.1,1148.1 L374.5,1158.5 L365,1150.7 L363.3,1108.3 Q366,1090 371.1,1078.8 Z"/>
<path stroke-width="1.10" d="M374.5,1078.8 L380.6,1084 L403.1,1074.5 M380.6,1084 L371.1,1118.7 L372,1155.1 M386.7,1089.2 L404.9,1082.3 L406.6,1097.9 L395.3,1146.4 L381.5,1153.3 L379.7,1118.7 Z"/>
<!-- lever 1-05 -->
<!-- hub 1-05 (behind arm) -->
<path stroke-width="2.58" fill="#fff" d="M281,1381 Q270,1387 266,1396 Q262,1406 264,1412 Q265,1416 268,1417 L292,1428 L312,1388 Z"/>
<path stroke-width="2.58" fill="#fff" d="M202.9,1092.7 L216,1085.7 L218.5,1088.3 L230.2,1179 L230.2,1286 L302,1358 Q305,1362 305,1366 L305,1387 L284,1401 L281,1399 L281,1378 L203,1298.5 Z"/>
<path stroke-width="1.10" d="M205.5,1094.4 L216,1088 M205.5,1094.4 V1296.5 L283,1375 M230.2,1286 L203,1298.5 M304,1362 L283,1375"/>
<path stroke-width="1.6" d="M283.5,1378 V1399"/>
<ellipse cx="303.5" cy="1406.5" rx="13" ry="21" transform="rotate(22 303.5 1406.5)" stroke-width="2.58" fill="#fff"/>
<ellipse cx="304.5" cy="1406.5" rx="8" ry="14" transform="rotate(22 304.5 1406.5)" stroke-width="1.76"/>
<ellipse cx="304.5" cy="1406.5" rx="6.5" ry="12" transform="rotate(22 304.5 1406.5)" stroke-width="0.80"/>
<!-- lower arm 1-05 -->
<path stroke-width="2.35" fill="#fff" d="M282,1424 L282,1438 L316,1476 L319,1499 L321,1501 L338,1492 L337,1465 L304,1428"/>
<path stroke-width="1.10" d="M286,1437 L304,1428 M316,1476 L337,1465 M322,1478 L325,1499 M286,1440 L320,1478"/>
<ellipse cx="329" cy="1489" rx="2.5" ry="3.5" stroke-width="1.10"/>
<circle cx="340" cy="1494" r="6.3" stroke-width="2.24" fill="#fff"/>
<!-- arrow A lower -->
<path stroke-width="2.58" d="M380,1512 L356,1501"/>
<path fill="#000" stroke-width="0.50" d="M347,1497 L360,1496.5 L357.5,1503.5 Z"/>
<circle cx="399.7" cy="1522.6" r="19.3" stroke-width="2.46"/>

<!-- lever 1-06 -->
<path stroke-width="2.58" fill="#fff" d="M446,1456 Q438,1462 432,1470 Q427,1478 428,1486 Q429,1490 432,1491 L456,1502.4 L478,1467 Z"/>
<path stroke-width="2.58" fill="#fff" d="M375.4,1172.4 L387.5,1167.2 L390.1,1169 L403.8,1259.7 L403.8,1367 L475.2,1441.6 Q478,1444 478,1448 L478,1467.2 L454.4,1480.8 L451.2,1479.2 L451.2,1457.6 L376.1,1379.5 Z"/>
<path stroke-width="1.10" d="M378,1174 L389,1169.5 M378,1174 V1377 L454.4,1457.6 M403.8,1367 L376.1,1379.5 M474.4,1446.4 L454.4,1457.6"/>
<path stroke-width="1.6" d="M454,1459 V1479"/>
<ellipse cx="468.8" cy="1486.4" rx="13.2" ry="19.2" transform="rotate(25 468.8 1486.4)" stroke-width="2.58" fill="#fff"/>
<ellipse cx="469.5" cy="1486.4" rx="8.5" ry="13" transform="rotate(25 469.5 1486.4)" stroke-width="1.76"/>
<ellipse cx="469.5" cy="1486.4" rx="7" ry="11" transform="rotate(25 469.5 1486.4)" stroke-width="0.80"/>
<path stroke-width="2.35" fill="#fff" d="M450,1503 L451,1516 L483,1554 L485,1578 L490,1581 L506,1568 L504,1544 L472,1504"/>
<path stroke-width="1.10" d="M455,1515 L472,1504 M483,1554 L504,1544 M489,1556 L491,1578 M455,1518 L487,1556"/>
<ellipse cx="497" cy="1568" rx="2.5" ry="3.5" stroke-width="1.10"/>
<circle cx="508" cy="1573" r="6.3" stroke-width="2.24" fill="#fff"/>
<path stroke-width="2.58" d="M546,1590 L524,1580.5"/>
<path fill="#000" stroke-width="0.50" d="M515,1577 L528,1576.5 L525.5,1583.5 Z"/>
<circle cx="564" cy="1595" r="19.3" stroke-width="2.46"/>

<!-- bushing 1-03 -->
<path stroke-width="2.58" fill="#fff" d="M214,1350 L241,1362 L227,1400 L195,1384 Q190,1376 194,1366 Q202,1350 214,1350 Z"/>
<ellipse cx="233" cy="1382" rx="13" ry="19" transform="rotate(15 233 1382)" stroke-width="2.58" fill="#fff"/>
<ellipse cx="233.5" cy="1382" rx="9" ry="14" transform="rotate(15 233.5 1382)" stroke-width="1.54"/>
<ellipse cx="233.5" cy="1382" rx="7.5" ry="12" transform="rotate(15 233.5 1382)" stroke-width="0.80"/>
<!-- circlip left -->
<g id="eclip">
<path stroke-width="1.65" d="M181.7,1336 Q178,1333 173.3,1334.7 Q165,1339 162.7,1345.7 Q159,1353 159,1360 Q159,1367 165.3,1370.3 Q170,1372 176,1367 Q181,1362 183.3,1355.3 Q182,1353 177.3,1355 L172.7,1359.7 L173.3,1363.3 Q170,1368 167.3,1367 Q163,1365 164.3,1362.3 L167.3,1359 L167,1356 L164,1354.3 Q164,1348 166.7,1346.7 Q168,1343 170.7,1342.3 L172,1344.3 L176.7,1343 L181.7,1336 Z"/>
<path stroke-width="0.70" d="M178,1335 Q168,1338 164,1348 Q160,1358 161,1364"/>
</g>
<!-- bushing 1-04 a -->
<path stroke-width="2.58" fill="#fff" d="M334,1413 L350,1418 L350,1443 L330,1436 Q324,1431 324,1424 Q326,1414 334,1413 Z"/>
<ellipse cx="360" cy="1437" rx="12.5" ry="18.5" transform="rotate(15 360 1437)" stroke-width="2.58" fill="#fff"/>
<ellipse cx="360.5" cy="1437" rx="6.5" ry="10.5" transform="rotate(15 360.5 1437)" stroke-width="1.76"/>
<!-- bushing 1-04 b -->
<ellipse cx="389" cy="1451" rx="12.5" ry="18.5" transform="rotate(12 389 1451)" stroke-width="2.58" fill="#fff"/>
<path stroke-width="2.58" fill="#fff" d="M391,1439 L416,1450 L416,1474 L391,1463 Z"/>
<ellipse cx="391" cy="1451" rx="7" ry="12" transform="rotate(12 391 1451)" stroke-width="1.54"/>
<path stroke-width="2.58" fill="#fff" d="M392,1439 L416,1450 L412,1474 L393,1466 Z" stroke="none"/>
<path stroke-width="2.58" d="M392,1439.5 L416,1450 M397,1467.5 L413,1474"/>
<ellipse cx="416" cy="1462" rx="7" ry="12" transform="rotate(12 416 1462)" stroke-width="2.58" fill="#fff"/>
<!-- shaft 1-01 -->
<path stroke-width="2.58" fill="#fff" d="M492,1500 L504,1494 L522,1501.5 L608,1546 L638.5,1557 L638,1565 L626,1573 L604,1562 L514,1518 L494,1508 Z"/>
<path stroke-width="1.10" d="M494,1502 L510,1511 L516,1518 M510,1511 L522,1503 M604,1550 L604,1562 M604,1550 L626,1561 L638.5,1557 M626,1561 L626,1573 M516,1502 Q511,1510 514,1518 M520,1503 Q515,1511 518,1519 M606,1547 Q601,1554 604,1562 M610,1549 Q605,1556 608,1563"/>
<ellipse cx="504" cy="1501" rx="5.5" ry="3.5" stroke-width="1.43"/>
<ellipse cx="625" cy="1558" rx="5.5" ry="3.5" stroke-width="1.43"/>
<!-- bolt 3 -->
<path stroke-width="2.24" fill="#fff" d="M614,1490 L618,1484 L627,1482.5 L634,1487 L634,1497 L628,1501 L619,1501 L614,1497 Z"/>
<path stroke-width="1.76" fill="#fff" d="M612.5,1496 Q624,1505 636,1496 L636,1499 Q624,1508 612.5,1499 Z"/>
<path stroke-width="0.90" d="M618,1484 L621,1490 L630,1490 L634,1487 M621,1490 V1499 M630,1490 V1499"/>
<path stroke-width="2.02" fill="#fff" d="M620.5,1503 L620.5,1530 Q625,1534 629.5,1530 L629.5,1503"/>
<path stroke-width="1.10" d="M620.5,1513 H629.5 M620.5,1518 H629.5 M620.5,1523 H629.5 M620.5,1527 H629.5"/>
<path stroke-width="1.21" stroke-dasharray="3 2" d="M625.5,1534 V1554"/>
<!-- circlip right -->
<use href="#eclip" transform="translate(485,224.3)"/>
</g>
<g fill="#000">
<text transform="matrix(0.30 0 0 0.355 389.8 1534.8)" font-size="100">A</text>
<text transform="matrix(0.30 0 0 0.355 552.6 1607.2)" font-size="100">B</text>
</g>

<g fill="none" stroke="#14AAE6" stroke-width="1.2" stroke-linejoin="round" stroke-linecap="round">
<!-- top boss right -->
<path d="M1046,1465 Q1048,1460 1056,1459 Q1072,1458 1080,1456 Q1088,1452 1094,1442 Q1100,1436 1108,1433 Q1113,1430 1118,1431 L1128,1438 L1129,1484"/>
<path d="M1046,1466 Q1048,1472 1056,1476 Q1070,1481 1080,1482 Q1090,1486 1094,1482 Q1098,1478 1100,1474 L1116,1450 Q1120,1442 1128,1438 M1110,1470 L1114,1476 L1130,1486"/>
<ellipse cx="1071.7" cy="1472.3" rx="6" ry="4"/><ellipse cx="1071.7" cy="1472.3" rx="3.5" ry="2.2"/>
<ellipse cx="1060" cy="1467" rx="3.5" ry="2.2"/>
<ellipse cx="1083.5" cy="1463.7" rx="4.5" ry="3"/>
<ellipse cx="1084.5" cy="1477.6" rx="3.5" ry="2.2"/>
<ellipse cx="1114" cy="1439" rx="6" ry="3.5"/><ellipse cx="1114" cy="1439.5" rx="4" ry="2.2"/>
<path d="M1101.6,1469.1 L1108,1488 M1129.3,1484 L1161.3,1505.9 L1161.3,1554.2 L1180.1,1572.1 L1180.1,1603.4 L1201.6,1613.3 L1200.7,1667 L1121,1717.1 L999.4,1786.9 L860,1870 L777.3,1858 L732,1831.3 L689.3,1800.7"/>
<!-- gasket frame -->
<path d="M850.9,1542.7 L939.5,1494.7 Q948,1492 950,1486 L965,1475.5 L997,1465.9 L1003.5,1455.2 Q1010,1452 1016,1455 L1046.1,1468 L1122.9,1518.1 Q1127,1522 1125,1530.9 L1124,1543.7 L1044,1590.7 L922.4,1607.7 L847.7,1567.2 L847.7,1548 Q847,1544 850.9,1542.7 Z"/>
<path d="M848,1547 L922,1586 L1042,1570 L1125,1522.4 M922,1586 L922.4,1607.7 M1042,1570 L1044,1590.7"/>
<path d="M871.2,1545.9 Q872,1541 880,1538 L939.5,1524.5 L953.3,1516 L967.2,1496.8 L1018.4,1484 L1101.6,1513.9 L1101.6,1526.7 L1033.3,1560.8 L952.3,1573.6 L920.3,1577.9 L871.2,1550.1 Z"/>
<path d="M884,1556.5 L945.9,1528.8 L971.5,1541.6 L918.1,1577.9 M889,1559 L946,1532 M950,1530 Q940,1548 944,1568"/>
<path d="M965,1475.5 L965,1500 M953.3,1516 L948,1520"/>
<ellipse cx="858.4" cy="1543.7" rx="4.5" ry="3"/>
<ellipse cx="940.5" cy="1495.7" rx="4.5" ry="3"/>
<ellipse cx="1009.9" cy="1459.5" rx="4.5" ry="3"/>
<ellipse cx="1113.3" cy="1519.2" rx="4.5" ry="3"/>
<ellipse cx="1038.7" cy="1561.9" rx="4.5" ry="3"/>
<ellipse cx="946.9" cy="1575.7" rx="4.5" ry="3"/>
<path d="M982,1525 Q985,1511 1003,1512 Q1018,1514 1020,1526 Q1032,1534 1028,1545 Q1034,1556 1024,1563 Q1012,1568 1003,1560 Q990,1552 994,1543 Q982,1536 982,1525 Z"/>
<ellipse cx="1003.5" cy="1522.4" rx="5" ry="3.5"/>
<ellipse cx="1013.1" cy="1537.3" rx="5" ry="3.5"/>
<ellipse cx="1017.3" cy="1554.4" rx="5" ry="3.5"/>
<ellipse cx="986.4" cy="1503.2" rx="11" ry="6.5"/><ellipse cx="986.4" cy="1503.2" rx="5" ry="3"/>
<ellipse cx="1058.9" cy="1529.9" rx="12.5" ry="8"/><ellipse cx="1058.9" cy="1529.9" rx="6" ry="3.5"/>
<ellipse cx="1051.5" cy="1550.1" rx="11" ry="7"/><ellipse cx="1054" cy="1549" rx="7" ry="4.5"/>
<!-- left side bosses and lines -->
<path d="M847.7,1567.2 L820,1581 M841.3,1543.7 Q835,1550 830.7,1558.7 M820,1624.8 L894.7,1597 M826,1633 L901,1600"/>
<ellipse cx="828.5" cy="1569.3" rx="8" ry="5"/>
<ellipse cx="864.8" cy="1622.7" rx="13" ry="8"/><ellipse cx="864.8" cy="1622" rx="5" ry="3"/>
<ellipse cx="828.5" cy="1634.4" rx="12" ry="8"/><ellipse cx="828.5" cy="1634" rx="5" ry="3"/>
<ellipse cx="797.2" cy="1651.6" rx="13" ry="8.5"/><ellipse cx="797.2" cy="1651" rx="8" ry="5"/>
<ellipse cx="782.8" cy="1613.2" rx="12" ry="7.5"/><ellipse cx="782.8" cy="1612.5" rx="4.5" ry="2.8"/>
<path d="M725.2,1657.6 Q740,1650 760,1655 Q768,1662 760,1668 Q745,1672 732,1668 M725.2,1657.6 L714.4,1691.2 M732.4,1651.6 L767.2,1628.8 L770.8,1614.4 L784,1607.2 L805.6,1600 M760,1668 L784,1669.6"/>
<!-- main body -->
<path d="M784,1669.6 L868,1712.8 L1000,1636 L1077,1593.6 L1090.6,1616.8 L1097.8,1658 M868,1712.8 L864.4,1739.2 L848.8,1751.2 M864.4,1739.2 L874,1748.8 L1013.7,1668 M874,1748.8 L870.4,1768"/>
<path d="M922.4,1607.7 L1000,1636 M1044,1590.7 L1077,1593.6 M1101.2,1616.8 L1156.8,1583.9"/>
<!-- left block + boss -->
<path d="M660,1730 Q662,1726 668,1724 L704,1706 M660,1734 L681.3,1748.7 L689.3,1800.7 M660,1734 L660,1755.3 L680,1767.3 M680.7,1748.7 L690,1783.3 M692,1766 L706.7,1794"/>
<path d="M693.3,1746 L724,1727.3 L750.7,1743.3 L720,1762 Z M693.3,1746 L689.3,1783.3 M720,1762 L716,1799.3 M689.3,1783.3 L716,1799.3 L756,1779.3"/>
<path d="M704,1706 L705.3,1698 Q712,1692 720,1690 Q740,1686 748,1700 Q752,1708 751,1718 L752,1747.3 M705.3,1698 L703,1745"/>
<ellipse cx="737.3" cy="1705.5" rx="9.5" ry="14" transform="rotate(-20 737.3 1705.5)"/>
<ellipse cx="737.8" cy="1706" rx="7.5" ry="12" transform="rotate(-20 737.8 1706)"/>
<path d="M718,1698 Q714,1704 719,1708 M718,1702 Q712,1710 718,1714"/>
<!-- plate with holes -->
<path d="M784,1669.6 L772,1732.7 Q768,1740 765.3,1747.3 L756,1779.3 L812.7,1814 M772,1732.7 L800,1710 Q806,1706 809.3,1710 Q814,1714 816,1722 L826.7,1778 L813.3,1814 M775,1729 L800,1709 M818,1722 L829,1776 L816,1812"/>
<ellipse cx="782.7" cy="1736.7" rx="5.5" ry="7.5" transform="rotate(-15 782.7 1736.7)"/><ellipse cx="783" cy="1737" rx="4" ry="6" transform="rotate(-15 783 1737)"/>
<ellipse cx="802" cy="1726.7" rx="5.5" ry="7.5" transform="rotate(-15 802 1726.7)"/>
<ellipse cx="776" cy="1755.3" rx="5.5" ry="7.5" transform="rotate(-15 776 1755.3)"/>
<ellipse cx="811.3" cy="1776.7" rx="5.5" ry="7.5" transform="rotate(-15 811.3 1776.7)"/>
<!-- front flange -->
<path d="M689.3,1800.7 L777.3,1838 Q780,1840 786,1841 L860,1851.3 L1000,1772.8 L1121,1703"/>
<ellipse cx="744" cy="1807.3" rx="6.5" ry="3.8"/>
<ellipse cx="785.3" cy="1832" rx="6.5" ry="3.8"/>
<ellipse cx="798.7" cy="1824" rx="6.5" ry="3.8"/>
<ellipse cx="850" cy="1842.7" rx="6.5" ry="3.8"/>
<ellipse cx="919.6" cy="1801.6" rx="6" ry="3.5"/>
<ellipse cx="674.4" cy="1733.3" rx="5" ry="3"/>
<ellipse cx="696" cy="1720.7" rx="5.5" ry="3.2"/>
<path d="M826.7,1778 L849.3,1791 M820,1808.7 L838.7,1819.3 L854.7,1820"/>
<!-- right boss w/ hole -->
<path d="M848.8,1772.8 L870.4,1765.6 Q880,1770 882.4,1777.6 L881.2,1806.4 L857.2,1820.8 Q850,1800 848.8,1772.8"/>
<ellipse cx="869.2" cy="1780" rx="8" ry="11" transform="rotate(-15 869.2 1780)"/>
<ellipse cx="869.5" cy="1780.3" rx="6" ry="9" transform="rotate(-15 869.5 1780.3)"/>
<!-- right blocks -->
<path d="M947.2,1722.4 L964,1708 L995.2,1722.4 L998,1775 M947.2,1722.4 L946,1770.4 M995.2,1722.4 Q985,1728 983,1740 L968.8,1806.4"/>
<ellipse cx="995" cy="1735" rx="2.5" ry="3.5"/><ellipse cx="993" cy="1767" rx="2.5" ry="3.5"/>
<path d="M1013.7,1681.3 L1033.4,1667.9 L1060.2,1683 L1067.4,1747.5 L1038.7,1766.3 M1013.7,1681.3 L1014.6,1733.2 L1038,1747 L1038.7,1766.3 M1060.2,1683 Q1046,1688 1044,1700 L1038,1747"/>
<ellipse cx="1054" cy="1695.6" rx="2.5" ry="3.5"/><ellipse cx="1053.1" cy="1735" rx="2.5" ry="3.5"/>
<path d="M1062,1670.5 L1088,1656.2 L1112.1,1666 L1121,1717 M1062,1670.5 L1068,1700 Q1080,1710 1090,1705 L1094,1717 M1112.1,1666 Q1100,1672 1100,1690 L1104,1700 L1121,1705"/>
<ellipse cx="1088" cy="1672.3" rx="7" ry="4"/>
<!-- large bore -->
<path d="M1097.8,1658 Q1100,1635 1108.5,1629.4 Q1120,1606 1140.7,1600.7 Q1155,1600 1167.6,1609.7 Q1180,1615 1187.3,1625.8 Q1192,1650 1189,1677.7"/>
<path d="M1121,1717 Q1118,1680 1125,1650 Q1135,1628 1150,1620 Q1168,1612 1180,1625"/>
<ellipse cx="1155" cy="1661.6" rx="24.5" ry="32" transform="rotate(15 1155 1661.6)"/>
<ellipse cx="1155.5" cy="1661.6" rx="22.5" ry="30" transform="rotate(15 1155.5 1661.6)"/>
<path d="M1167.6,1609.7 L1180,1603.4 M1201.6,1613.3 L1189,1620 M1189,1677.7 L1200.7,1667 M1195,1640 L1197,1660"/>
<ellipse cx="1183" cy="1618" rx="5" ry="3"/>
<path d="M1113.7,1559 L1138.6,1547.6 Q1143,1541 1146.6,1540.8 Q1151,1541 1153.4,1543.1 Q1156,1547 1157.9,1551 Q1159,1556 1161.3,1556.7 Q1166,1557 1167,1557.8 Q1170,1562 1169.3,1566.9 M1113.7,1559 L1165.9,1588.4 M1138.6,1548.8 L1180.6,1571.4 M1169.3,1566.9 Q1165,1572 1165.9,1579.4 L1165.9,1608.8 Q1168,1612 1172,1611 Q1178,1608 1179.5,1602 M1126.2,1526 L1131.8,1524.4 L1136.4,1531.7"/>
<path d="M1091,1619 L1091,1640 M1060.4,1640 L1087.6,1624.7"/>
<ellipse cx="1145.4" cy="1527.2" rx="5.5" ry="8" transform="rotate(20 1145.4 1527.2)"/><ellipse cx="1146" cy="1527.5" rx="4" ry="6.5" transform="rotate(20 1146 1527.5)"/>
</g>
<g fill="none" stroke="#000">
<ellipse cx="922.5" cy="1658.5" rx="91.5" ry="23" stroke="none" fill="#fff"/>
<g transform="matrix(0.2954 0 0 0.3338 847.54 1669.37)"><text x="0" y="0" font-size="100" fill="#000">FIG. 601-01</text><g fill="#fff"><rect x="337.15" y="-11.38" width="21.29" height="15.28"/><rect x="367.57" y="-11.38" width="20.51" height="15.28"/><rect x="481.68" y="-11.38" width="21.29" height="15.28"/><rect x="512.10" y="-11.38" width="20.51" height="15.28"/></g></g>
<ellipse cx="922.5" cy="1658.5" rx="91.5" ry="23" stroke-width="2.5" fill="none"/>
</g>
<rect x="846" y="1644" width="158" height="28" fill="#fff" opacity="0"/>

<g fill="none" stroke="#000" stroke-linejoin="round" stroke-linecap="round">
<path stroke-width="1.35" fill="#fff" d="M1064.3,1269.5 Q1070.8,1264.5 1077.3,1269.5 L1077.3,1447.4 Q1070.8,1452.4 1064.3,1447.4 Z"/>
<ellipse cx="1070.8" cy="1270.0" rx="4.0" ry="2" stroke-width="0.90"/>
<path stroke-width="0.90" d="M1064.3,1270.2357142857143 Q1070.8,1273.7357142857143 1077.3,1270.2357142857143 M1064.3,1274.4714285714285 Q1070.8,1277.9714285714285 1077.3,1274.4714285714285 M1064.3,1278.7071428571428 Q1070.8,1282.2071428571428 1077.3,1278.7071428571428 M1064.3,1282.942857142857 Q1070.8,1286.442857142857 1077.3,1282.942857142857 M1064.3,1287.1785714285713 Q1070.8,1290.6785714285713 1077.3,1287.1785714285713 M1064.3,1291.4142857142856 Q1070.8,1294.9142857142856 1077.3,1291.4142857142856 M1064.3,1295.65 Q1070.8,1299.15 1077.3,1295.65 M1064.3,1299.8857142857144 Q1070.8,1303.3857142857144 1077.3,1299.8857142857144 M1064.3,1304.1214285714286 Q1070.8,1307.6214285714286 1077.3,1304.1214285714286 M1064.3,1308.357142857143 Q1070.8,1311.857142857143 1077.3,1308.357142857143 M1064.3,1312.5928571428572 Q1070.8,1316.0928571428572 1077.3,1312.5928571428572 M1064.3,1316.8285714285714 Q1070.8,1320.3285714285714 1077.3,1316.8285714285714 M1064.3,1321.0642857142857 Q1070.8,1324.5642857142857 1077.3,1321.0642857142857 M1064.3,1325.3 Q1070.8,1328.8 1077.3,1325.3 M1064.3,1385.7 Q1070.8,1389.2 1077.3,1385.7 M1064.3,1390.142857142857 Q1070.8,1393.642857142857 1077.3,1390.142857142857 M1064.3,1394.5857142857144 Q1070.8,1398.0857142857144 1077.3,1394.5857142857144 M1064.3,1399.0285714285715 Q1070.8,1402.5285714285715 1077.3,1399.0285714285715 M1064.3,1403.4714285714285 Q1070.8,1406.9714285714285 1077.3,1403.4714285714285 M1064.3,1407.9142857142858 Q1070.8,1411.4142857142858 1077.3,1407.9142857142858 M1064.3,1412.357142857143 Q1070.8,1415.857142857143 1077.3,1412.357142857143 M1064.3,1416.8000000000002 Q1070.8,1420.3000000000002 1077.3,1416.8000000000002 M1064.3,1421.2428571428572 Q1070.8,1424.7428571428572 1077.3,1421.2428571428572 M1064.3,1425.6857142857143 Q1070.8,1429.1857142857143 1077.3,1425.6857142857143 M1064.3,1430.1285714285716 Q1070.8,1433.6285714285716 1077.3,1430.1285714285716 M1064.3,1434.5714285714287 Q1070.8,1438.0714285714287 1077.3,1434.5714285714287 M1064.3,1439.0142857142857 Q1070.8,1442.5142857142857 1077.3,1439.0142857142857 M1064.3,1443.457142857143 Q1070.8,1446.957142857143 1077.3,1443.457142857143 "/>
<path stroke-width="1.35" fill="#fff" d="M1107.6,1235.6 Q1114.05,1230.6 1120.5,1235.6 L1120.5,1414.6 Q1114.05,1419.6 1107.6,1414.6 Z"/>
<ellipse cx="1114.05" cy="1236.1" rx="3.9500000000000455" ry="2" stroke-width="0.90"/>
<path stroke-width="0.90" d="M1107.6,1236.3714285714284 Q1114.05,1239.8714285714284 1120.5,1236.3714285714284 M1107.6,1240.642857142857 Q1114.05,1244.142857142857 1120.5,1240.642857142857 M1107.6,1244.9142857142856 Q1114.05,1248.4142857142856 1120.5,1244.9142857142856 M1107.6,1249.1857142857143 Q1114.05,1252.6857142857143 1120.5,1249.1857142857143 M1107.6,1253.4571428571428 Q1114.05,1256.9571428571428 1120.5,1253.4571428571428 M1107.6,1257.7285714285715 Q1114.05,1261.2285714285715 1120.5,1257.7285714285715 M1107.6,1262.0 Q1114.05,1265.5 1120.5,1262.0 M1107.6,1266.2714285714285 Q1114.05,1269.7714285714285 1120.5,1266.2714285714285 M1107.6,1270.5428571428572 Q1114.05,1274.0428571428572 1120.5,1270.5428571428572 M1107.6,1274.8142857142857 Q1114.05,1278.3142857142857 1120.5,1274.8142857142857 M1107.6,1279.0857142857144 Q1114.05,1282.5857142857144 1120.5,1279.0857142857144 M1107.6,1283.357142857143 Q1114.05,1286.857142857143 1120.5,1283.357142857143 M1107.6,1287.6285714285716 Q1114.05,1291.1285714285716 1120.5,1287.6285714285716 M1107.6,1291.9 Q1114.05,1295.4 1120.5,1291.9 M1107.6,1351.8 Q1114.05,1355.3 1120.5,1351.8 M1107.6,1356.02 Q1114.05,1359.52 1120.5,1356.02 M1107.6,1360.24 Q1114.05,1363.74 1120.5,1360.24 M1107.6,1364.46 Q1114.05,1367.96 1120.5,1364.46 M1107.6,1368.6799999999998 Q1114.05,1372.1799999999998 1120.5,1368.6799999999998 M1107.6,1372.8999999999999 Q1114.05,1376.3999999999999 1120.5,1372.8999999999999 M1107.6,1377.12 Q1114.05,1380.62 1120.5,1377.12 M1107.6,1381.34 Q1114.05,1384.84 1120.5,1381.34 M1107.6,1385.56 Q1114.05,1389.06 1120.5,1385.56 M1107.6,1389.78 Q1114.05,1393.28 1120.5,1389.78 M1107.6,1394.0 Q1114.05,1397.5 1120.5,1394.0 M1107.6,1398.22 Q1114.05,1401.72 1120.5,1398.22 M1107.6,1402.4399999999998 Q1114.05,1405.9399999999998 1120.5,1402.4399999999998 M1107.6,1406.6599999999999 Q1114.05,1410.1599999999999 1120.5,1406.6599999999999 M1107.6,1410.8799999999999 Q1114.05,1414.3799999999999 1120.5,1410.8799999999999 "/>
</g>

<g fill="none" stroke="#000" stroke-width="1.1" stroke-dasharray="7 2.5 2 2.5">
<path d="M1071.5,517 V649 M1071.5,671 V729 M1071.5,770 V958 M1071.5,1008 V1169 M1071.5,1218 V1267 M1071.5,1450 V1474"/>
<path d="M1114.5,495 V612 M1114.5,647 V694 M1114.5,755 V924 M1114.5,1019 V1135 M1114.5,1229 V1233 M1114.5,1417 V1441"/>
</g>


<g>
<g transform="matrix(0.3000 0 0 0.3188 547.00 590.00)"><text x="0" y="0" font-size="100" fill="#000">1</text><g fill="#fff"><rect x="3.71" y="-11.38" width="21.29" height="15.28"/><rect x="34.13" y="-11.38" width="20.51" height="15.28"/></g></g>
<g transform="matrix(0.3432 0 0 0.3028 626.57 499.70)"><text x="0" y="0" font-size="100" fill="#000">1-01</text><g fill="#fff"><rect x="3.71" y="-11.38" width="21.29" height="15.28"/><rect x="34.13" y="-11.38" width="20.51" height="15.28"/><rect x="148.24" y="-11.38" width="21.29" height="15.28"/><rect x="178.66" y="-11.38" width="20.51" height="15.28"/></g></g>
<g transform="matrix(0.3351 0 0 0.3056 626.65 536.39)"><text x="0" y="0" font-size="100" fill="#000">1-02</text><g fill="#fff"><rect x="3.71" y="-11.38" width="21.29" height="15.28"/><rect x="34.13" y="-11.38" width="20.51" height="15.28"/></g></g>
<g transform="matrix(0.3333 0 0 0.3042 626.67 573.00)"><text x="0" y="0" font-size="100" fill="#000">1-03</text><g fill="#fff"><rect x="3.71" y="-11.38" width="21.29" height="15.28"/><rect x="34.13" y="-11.38" width="20.51" height="15.28"/></g></g>
<g transform="matrix(0.3316 0 0 0.3056 626.68 609.69)"><text x="0" y="0" font-size="100" fill="#000">1-04</text><g fill="#fff"><rect x="3.71" y="-11.38" width="21.29" height="15.28"/><rect x="34.13" y="-11.38" width="20.51" height="15.28"/></g></g>
<g transform="matrix(0.3333 0 0 0.3099 626.67 646.19)"><text x="0" y="0" font-size="100" fill="#000">1-05</text><g fill="#fff"><rect x="3.71" y="-11.38" width="21.29" height="15.28"/><rect x="34.13" y="-11.38" width="20.51" height="15.28"/></g></g>
<g transform="matrix(0.3333 0 0 0.3099 626.67 682.69)"><text x="0" y="0" font-size="100" fill="#000">1-06</text><g fill="#fff"><rect x="3.71" y="-11.38" width="21.29" height="15.28"/><rect x="34.13" y="-11.38" width="20.51" height="15.28"/></g></g>
<g transform="matrix(0.2639 0 0 0.3070 1172.56 459.99)"><text x="0" y="0" font-size="100" fill="#000">18</text><g fill="#fff"><rect x="3.71" y="-11.38" width="21.29" height="15.28"/><rect x="34.13" y="-11.38" width="20.51" height="15.28"/></g></g>
<g transform="matrix(0.2639 0 0 0.3070 981.36 482.39)"><text x="0" y="0" font-size="100" fill="#000">18</text><g fill="#fff"><rect x="3.71" y="-11.38" width="21.29" height="15.28"/><rect x="34.13" y="-11.38" width="20.51" height="15.28"/></g></g>
<g transform="matrix(0.2708 0 0 0.3159 1172.29 500.30)"><text x="0" y="0" font-size="100" fill="#000">17</text><g fill="#fff"><rect x="3.71" y="-11.38" width="21.29" height="15.28"/><rect x="34.13" y="-11.38" width="20.51" height="15.28"/></g></g>
<g transform="matrix(0.2708 0 0 0.3159 981.29 522.70)"><text x="0" y="0" font-size="100" fill="#000">17</text><g fill="#fff"><rect x="3.71" y="-11.38" width="21.29" height="15.28"/><rect x="34.13" y="-11.38" width="20.51" height="15.28"/></g></g>
<g transform="matrix(0.2660 0 0 0.3032 1315.37 615.93)"><text x="0" y="0" font-size="100" fill="#000">22(EU)</text></g>
<g transform="matrix(0.2585 0 0 0.2972 1292.11 722.50)"><text x="0" y="0" font-size="100" fill="#000">10-02</text><g fill="#fff"><rect x="3.71" y="-11.38" width="21.29" height="15.28"/><rect x="34.13" y="-11.38" width="20.51" height="15.28"/></g></g>
<g transform="matrix(0.2520 0 0 0.3232 1135.48 828.30)"><text x="0" y="0" font-size="100" fill="#000">14</text><g fill="#fff"><rect x="3.71" y="-11.38" width="21.29" height="15.28"/><rect x="34.13" y="-11.38" width="20.51" height="15.28"/></g></g>
<g transform="matrix(0.2784 0 0 0.3171 871.62 805.08)"><text x="0" y="0" font-size="100" fill="#000">15</text><g fill="#fff"><rect x="3.71" y="-11.38" width="21.29" height="15.28"/><rect x="34.13" y="-11.38" width="20.51" height="15.28"/></g></g>
<g transform="matrix(0.2784 0 0 0.3141 871.22 837.99)"><text x="0" y="0" font-size="100" fill="#000">16</text><g fill="#fff"><rect x="3.71" y="-11.38" width="21.29" height="15.28"/><rect x="34.13" y="-11.38" width="20.51" height="15.28"/></g></g>
<g transform="matrix(0.2723 0 0 0.2986 980.11 835.00)"><text x="0" y="0" font-size="100" fill="#000">8</text></g>
<g transform="matrix(0.2565 0 0 0.2972 1012.92 847.80)"><text x="0" y="0" font-size="100" fill="#000">9</text></g>
<g transform="matrix(0.2776 0 0 0.3029 1352.01 862.80)"><text x="0" y="0" font-size="100" fill="#000">21</text><g fill="#fff"><rect x="59.32" y="-11.38" width="21.29" height="15.28"/><rect x="89.74" y="-11.38" width="20.51" height="15.28"/></g></g>
<g transform="matrix(0.2588 0 0 0.2986 1308.11 899.20)"><text x="0" y="0" font-size="100" fill="#000">20</text></g>
<g transform="matrix(0.2835 0 0 0.3042 1253.36 937.00)"><text x="0" y="0" font-size="100" fill="#000">13</text><g fill="#fff"><rect x="3.71" y="-11.38" width="21.29" height="15.28"/><rect x="34.13" y="-11.38" width="20.51" height="15.28"/></g></g>
<g transform="matrix(0.2464 0 0 0.3099 1426.04 948.59)"><text x="0" y="0" font-size="100" fill="#000">10</text><g fill="#fff"><rect x="3.71" y="-11.38" width="21.29" height="15.28"/><rect x="34.13" y="-11.38" width="20.51" height="15.28"/></g></g>
<g transform="matrix(0.2705 0 0 0.3141 1294.29 977.89)"><text x="0" y="0" font-size="100" fill="#000">10-01</text><g fill="#fff"><rect x="3.71" y="-11.38" width="21.29" height="15.28"/><rect x="34.13" y="-11.38" width="20.51" height="15.28"/><rect x="203.85" y="-11.38" width="21.29" height="15.28"/><rect x="234.27" y="-11.38" width="20.51" height="15.28"/></g></g>
<g transform="matrix(0.2935 0 0 0.3127 780.13 909.49)"><text x="0" y="0" font-size="100" fill="#000">6</text></g>
<g transform="matrix(0.2794 0 0 0.3186 858.01 1015.88)"><text x="0" y="0" font-size="100" fill="#000">15</text><g fill="#fff"><rect x="3.71" y="-11.38" width="21.29" height="15.28"/><rect x="34.13" y="-11.38" width="20.51" height="15.28"/></g></g>
<g transform="matrix(0.2784 0 0 0.3141 858.22 1046.79)"><text x="0" y="0" font-size="100" fill="#000">16</text><g fill="#fff"><rect x="3.71" y="-11.38" width="21.29" height="15.28"/><rect x="34.13" y="-11.38" width="20.51" height="15.28"/></g></g>
<g transform="matrix(0.2702 0 0 0.2972 967.22 1049.50)"><text x="0" y="0" font-size="100" fill="#000">8</text></g>
<g transform="matrix(0.2565 0 0 0.3070 1001.92 1062.99)"><text x="0" y="0" font-size="100" fill="#000">9</text></g>
<g transform="matrix(0.3306 0 0 0.3333 1317.09 1084.70)"><text x="0" y="0" font-size="100" fill="#000">11</text><g fill="#fff"><rect x="3.71" y="-11.38" width="21.29" height="15.28"/><rect x="34.13" y="-11.38" width="20.51" height="15.28"/><rect x="51.90" y="-11.38" width="21.29" height="15.28"/><rect x="82.32" y="-11.38" width="20.51" height="15.28"/></g></g>
<g transform="matrix(0.3130 0 0 0.3485 270.03 1055.65)"><text x="0" y="0" font-size="100" fill="#000">7</text></g>
<g transform="matrix(0.2872 0 0 0.3171 774.65 1104.78)"><text x="0" y="0" font-size="100" fill="#000">5</text></g>
<g transform="matrix(0.2696 0 0 0.3100 303.25 1115.30)"><text x="0" y="0" font-size="100" fill="#000">2</text></g>
<g transform="matrix(0.2696 0 0 0.3239 1295.15 1126.48)"><text x="0" y="0" font-size="100" fill="#000">20</text></g>
<g transform="matrix(0.2479 0 0 0.3286 1248.22 1150.70)"><text x="0" y="0" font-size="100" fill="#000">12</text><g fill="#fff"><rect x="3.71" y="-11.38" width="21.29" height="15.28"/><rect x="34.13" y="-11.38" width="20.51" height="15.28"/></g></g>
<g transform="matrix(0.2647 0 0 0.3279 558.67 1177.03)"><text x="0" y="0" font-size="100" fill="#000">4</text></g>
<g transform="matrix(0.2647 0 0 0.2972 1294.95 1209.00)"><text x="0" y="0" font-size="100" fill="#000">10-03</text><g fill="#fff"><rect x="3.71" y="-11.38" width="21.29" height="15.28"/><rect x="34.13" y="-11.38" width="20.51" height="15.28"/></g></g>
<g transform="matrix(0.2667 0 0 0.3352 287.53 1226.56)"><text x="0" y="0" font-size="100" fill="#000">1-05</text><g fill="#fff"><rect x="3.71" y="-11.38" width="21.29" height="15.28"/><rect x="34.13" y="-11.38" width="20.51" height="15.28"/></g></g>
<g transform="matrix(0.2708 0 0 0.3239 1179.29 1297.98)"><text x="0" y="0" font-size="100" fill="#000">19</text><g fill="#fff"><rect x="3.71" y="-11.38" width="21.29" height="15.28"/><rect x="34.13" y="-11.38" width="20.51" height="15.28"/></g></g>
<g transform="matrix(0.2667 0 0 0.3265 525.77 1320.03)"><text x="0" y="0" font-size="100" fill="#000">4</text></g>
<g transform="matrix(0.2708 0 0 0.3239 955.29 1327.98)"><text x="0" y="0" font-size="100" fill="#000">19</text><g fill="#fff"><rect x="3.71" y="-11.38" width="21.29" height="15.28"/><rect x="34.13" y="-11.38" width="20.51" height="15.28"/></g></g>
<g transform="matrix(0.2540 0 0 0.3225 302.96 1352.18)"><text x="0" y="0" font-size="100" fill="#000">1-04</text><g fill="#fff"><rect x="3.71" y="-11.38" width="21.29" height="15.28"/><rect x="34.13" y="-11.38" width="20.51" height="15.28"/></g></g>
<g transform="matrix(0.2667 0 0 0.3338 442.53 1362.97)"><text x="0" y="0" font-size="100" fill="#000">1-06</text><g fill="#fff"><rect x="3.71" y="-11.38" width="21.29" height="15.28"/><rect x="34.13" y="-11.38" width="20.51" height="15.28"/></g></g>
<g transform="matrix(0.2681 0 0 0.3352 130.42 1466.76)"><text x="0" y="0" font-size="100" fill="#000">1-02</text><g fill="#fff"><rect x="3.71" y="-11.38" width="21.29" height="15.28"/><rect x="34.13" y="-11.38" width="20.51" height="15.28"/></g></g>
<g transform="matrix(0.2864 0 0 0.3169 529.14 1465.48)"><text x="0" y="0" font-size="100" fill="#000">1-01</text><g fill="#fff"><rect x="3.71" y="-11.38" width="21.29" height="15.28"/><rect x="34.13" y="-11.38" width="20.51" height="15.28"/><rect x="148.24" y="-11.38" width="21.29" height="15.28"/><rect x="178.66" y="-11.38" width="20.51" height="15.28"/></g></g>
<g transform="matrix(0.2602 0 0 0.3239 195.80 1491.58)"><text x="0" y="0" font-size="100" fill="#000">1-03</text><g fill="#fff"><rect x="3.71" y="-11.38" width="21.29" height="15.28"/><rect x="34.13" y="-11.38" width="20.51" height="15.28"/></g></g>
<g transform="matrix(0.2638 0 0 0.3056 696.34 1522.59)"><text x="0" y="0" font-size="100" fill="#000">3</text></g>
<g transform="matrix(0.2681 0 0 0.3338 607.82 1648.57)"><text x="0" y="0" font-size="100" fill="#000">1-02</text><g fill="#fff"><rect x="3.71" y="-11.38" width="21.29" height="15.28"/><rect x="34.13" y="-11.38" width="20.51" height="15.28"/></g></g>
<g transform="matrix(0.1741 0 0 0.2155 173.25 1817.88)"><text x="0" y="0" font-size="100" fill="#000">T754-K-608</text></g>
</g>
</svg></body></html>
